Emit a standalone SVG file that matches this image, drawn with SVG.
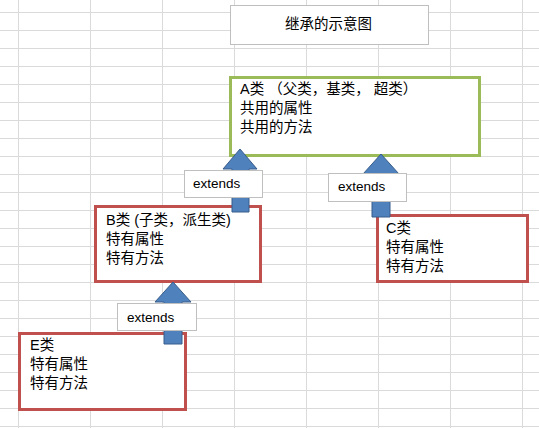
<svg xmlns="http://www.w3.org/2000/svg" width="539" height="428" viewBox="0 0 539 428">
<style>
.grid{stroke:#dadada;stroke-width:1}
.t{font-family:"Liberation Sans","Noto Sans CJK SC",sans-serif;font-size:14.5px;fill:#000}
.lbl{font-family:"Liberation Sans","Noto Sans CJK SC",sans-serif;font-size:13.5px;fill:#000}
.red{fill:#fff;stroke:#c0504d;stroke-width:3}
.green{fill:#fff;stroke:#9bbb59;stroke-width:3}
.gray{fill:#fff;stroke:#bfbfbf;stroke-width:1}
.arrow{fill:#4f81bd;stroke:#385d8a;stroke-width:1}
</style>
<rect width="539" height="428" fill="#fff"/>
<g id="grid" class="grid">
<line x1="18.5" y1="0" x2="18.5" y2="428"/>
<line x1="90.5" y1="0" x2="90.5" y2="428"/>
<line x1="162.5" y1="0" x2="162.5" y2="428"/>
<line x1="234.5" y1="0" x2="234.5" y2="428"/>
<line x1="306.5" y1="0" x2="306.5" y2="428"/>
<line x1="378.5" y1="0" x2="378.5" y2="428"/>
<line x1="450.5" y1="0" x2="450.5" y2="428"/>
<line x1="522.5" y1="0" x2="522.5" y2="428"/>
<line x1="0" y1="12.5" x2="539" y2="12.5"/>
<line x1="0" y1="30.5" x2="539" y2="30.5"/>
<line x1="0" y1="48.5" x2="539" y2="48.5"/>
<line x1="0" y1="66.5" x2="539" y2="66.5"/>
<line x1="0" y1="84.5" x2="539" y2="84.5"/>
<line x1="0" y1="102.5" x2="539" y2="102.5"/>
<line x1="0" y1="120.5" x2="539" y2="120.5"/>
<line x1="0" y1="138.5" x2="539" y2="138.5"/>
<line x1="0" y1="156.5" x2="539" y2="156.5"/>
<line x1="0" y1="174.5" x2="539" y2="174.5"/>
<line x1="0" y1="192.5" x2="539" y2="192.5"/>
<line x1="0" y1="210.5" x2="539" y2="210.5"/>
<line x1="0" y1="228.5" x2="539" y2="228.5"/>
<line x1="0" y1="246.5" x2="539" y2="246.5"/>
<line x1="0" y1="264.5" x2="539" y2="264.5"/>
<line x1="0" y1="282.5" x2="539" y2="282.5"/>
<line x1="0" y1="300.5" x2="539" y2="300.5"/>
<line x1="0" y1="318.5" x2="539" y2="318.5"/>
<line x1="0" y1="336.5" x2="539" y2="336.5"/>
<line x1="0" y1="354.5" x2="539" y2="354.5"/>
<line x1="0" y1="372.5" x2="539" y2="372.5"/>
<line x1="0" y1="390.5" x2="539" y2="390.5"/>
<line x1="0" y1="408.5" x2="539" y2="408.5"/>
<line x1="0" y1="426.5" x2="539" y2="426.5"/>
</g>
<g id="title">
<rect class="gray" x="230.5" y="5.5" width="198" height="39"/>
<text class="t" x="285" y="29">继承的示意图</text>
</g>
<g id="nodeA">
<rect class="green" x="230.5" y="77.5" width="249" height="78"/>
<text class="t" x="240" y="94">A类 （父类，基类， 超类）</text>
<text class="t" x="240" y="113">共用的属性</text>
<text class="t" x="240" y="132">共用的方法</text>
</g>
<g id="nodeB">
<rect class="red" x="95.5" y="206.5" width="165" height="75"/>
<text class="t" x="106" y="225">B类 (子类，派生类)</text>
<text class="t" x="106" y="244">特有属性</text>
<text class="t" x="106" y="263">特有方法</text>
</g>
<g id="nodeC">
<rect class="red" x="377.5" y="215.5" width="150" height="66"/>
<text class="t" x="386" y="233">C类</text>
<text class="t" x="386" y="252">特有属性</text>
<text class="t" x="386" y="271">特有方法</text>
</g>
<g id="nodeE">
<rect class="red" x="19.5" y="333.5" width="166" height="76"/>
<text class="t" x="30" y="350">E类</text>
<text class="t" x="30" y="369">特有属性</text>
<text class="t" x="30" y="388">特有方法</text>
</g>
<g id="connectors">
<polygon class="arrow" points="240,149 257,169 249,169 249,212 232,212 232,169 223,169"/>
<polygon class="arrow" points="381,154 399,174 390,174 390,217 372,217 372,174 363,174"/>
<polygon class="arrow" points="173,282 191,302 182,302 182,344 164,344 164,302 155,302"/>
<g id="label-BA">
<rect class="gray" x="184.5" y="170.5" width="78" height="27"/>
<text class="lbl" x="193" y="188">extends</text>
</g>
<g id="label-CA">
<rect class="gray" x="328.5" y="173.5" width="78" height="28"/>
<text class="lbl" x="338" y="191">extends</text>
</g>
<g id="label-EB">
<rect class="gray" x="117.5" y="303.5" width="79" height="27"/>
<text class="lbl" x="127" y="322">extends</text>
</g>
</g>
</svg>
